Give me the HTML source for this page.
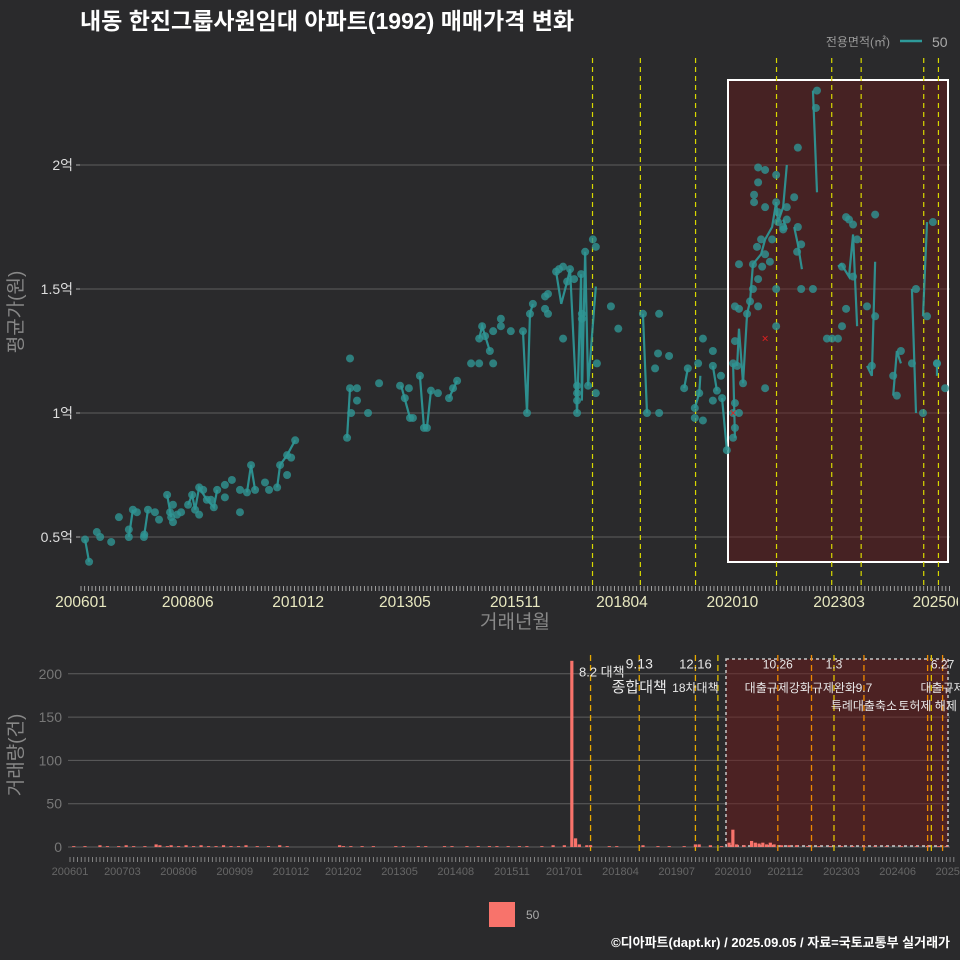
<!DOCTYPE html>
<html><head><meta charset="utf-8">
<style>
body{margin:0;background:#2a2a2c;}
svg{display:block;font-family:"Liberation Sans","Noto Sans CJK KR",sans-serif;}
</style></head><body>
<svg id="chart" width="960" height="960" viewBox="0 0 960 960">
<defs><clipPath id="xclip"><rect x="0" y="0" width="958" height="960"/></clipPath></defs>
<rect x="0" y="0" width="960" height="960" fill="#2a2a2c"/>
<text x="80" y="29" fill="#ffffff" font-size="23" font-weight="bold">내동 한진그룹사원임대 아파트(1992) 매매가격 변화</text>
<g>
<text x="890" y="46" fill="#999" font-size="12" text-anchor="end">전용면적(㎡)</text>
<line x1="900" y1="41" x2="922" y2="41" stroke="#2e9a9a" stroke-width="2.5"/>
<text x="932" y="47" fill="#aaa" font-size="14">50</text>
</g>
<g id="topg"></g>
<g id="botg"></g>
<text x="515" y="628" fill="#888" font-size="19" text-anchor="middle">거래년월</text>
<text transform="translate(22,312) rotate(-90)" fill="#888" font-size="19" text-anchor="middle">평균가(원)</text>
<text transform="translate(22,755) rotate(-90)" fill="#888" font-size="19" text-anchor="middle">거래량(건)</text>
<rect x="489" y="902" width="26" height="25" fill="#f8736b"/>
<text x="526" y="919" fill="#aaa" font-size="12">50</text>
<text x="950" y="947" fill="#ffffff" font-size="13" font-weight="bold" text-anchor="end">©디아파트(dapt.kr) / 2025.09.05 / 자료=국토교통부 실거래가</text>
</svg>
<script>
const NS="http://www.w3.org/2000/svg";
// ---- data ----
const yTicks=[0.5,1,1.5,2];
const yTickLabels=["0.5억","1억","1.5억","2억"];
const xTickMonths=[0,29,59,88,118,147,177,206,233];
const xTickLabels=["200601","200806","201012","201305","201511","201804","202010","202303","202506"];
const ptMonths=[1.1,2.2,4.3,5.2,8.2,10.3,13,13,14.1,15.2,17.1,17.2,18.2,20.1,21.2,23.4,24.2,24.5,25,25,26.1,27.2,29.1,30.2,31,32.1,32.1,33.2,34.2,35.3,36.1,37,39.1,39.1,41,43.2,43.2,45.1,46.2,47.3,50,51.1,53.3,54.1,56,56,57.1,58.2,72.3,73.1,73.1,73.4,75,75,78,81,86.7,88,89.1,89.4,90.2,92.1,93.2,94,95.1,97,100,101.1,102.2,106,108.2,108.2,109,109.8,111.1,112,112,114.1,114.1,116.8,120.1,121.2,122,122.8,126.1,126.9,126.1,126.9,129.1,129.9,131,131,132.1,132.9,134,134.8,134.8,134.8,134.8,135.9,136.1,136.1,137,137.8,139.1,139.9,140.2,139.9,144,146,152.7,153.8,157.1,157.1,156.8,156,159.8,163.9,164.9,167.7,169,166.8,166.8,169,168,171.7,171.7,173.9,172.8,171.7,174.2,175.5,177.2,177.7,177.2,178.8,177.7,177.2,178.3,177.7,179.9,178.8,177.7,178.8,181,181.8,182.6,184,185.9,182.6,185.1,183.7,184.8,185.9,187.2,187.8,188.9,188.9,188.9,188.9,184,185.9,184,182.9,182.9,185.9,189.4,189.4,190.8,191.8,190.8,191.8,194.8,193.8,194.8,195.7,194.6,195.7,198.9,200,199.7,184,202.7,204.1,205.7,206.8,207.9,209.8,208.7,209.8,210.9,206.8,207.9,215.8,215.8,213.6,214.9,220.7,221.7,222.8,225.8,226.9,228.8,229.9,231.5,232.6,232.6,234.8];
const ptPrices=[0.49,0.40,0.52,0.50,0.48,0.58,0.50,0.53,0.61,0.60,0.50,0.51,0.61,0.60,0.57,0.67,0.60,0.58,0.56,0.63,0.59,0.60,0.63,0.67,0.61,0.59,0.70,0.69,0.65,0.65,0.62,0.69,0.71,0.66,0.73,0.69,0.60,0.68,0.79,0.69,0.72,0.69,0.70,0.79,0.83,0.75,0.82,0.89,0.90,1.10,1.22,1.00,1.10,1.05,1.00,1.12,1.11,1.06,1.10,0.98,0.98,1.15,0.94,0.94,1.09,1.08,1.06,1.10,1.13,1.20,1.20,1.30,1.35,1.31,1.25,1.20,1.33,1.35,1.38,1.33,1.33,1.00,1.40,1.44,1.47,1.48,1.42,1.40,1.57,1.58,1.59,1.30,1.53,1.58,1.54,1.00,1.05,1.08,1.11,1.56,1.40,1.38,1.65,1.11,1.70,1.67,1.20,1.08,1.43,1.34,1.40,1.00,1.40,1.00,1.24,1.18,1.23,1.10,1.18,1.20,1.30,1.02,0.98,0.97,1.08,1.25,1.19,1.15,1.09,1.05,1.06,0.85,0.90,0.94,1.00,1.00,1.04,1.20,1.19,1.29,1.12,1.60,1.43,1.42,1.40,1.45,1.50,1.43,1.10,1.60,1.59,1.67,1.70,1.64,1.61,1.70,1.50,1.35,1.85,1.96,1.99,1.98,1.93,1.88,1.85,1.83,1.81,1.77,1.75,1.78,1.74,1.83,2.07,1.87,1.75,1.68,1.65,1.50,1.50,2.30,2.23,1.54,1.30,1.30,1.30,1.59,1.79,1.76,1.78,1.55,1.70,1.35,1.42,1.39,1.80,1.43,1.19,1.15,1.07,1.25,1.20,1.50,1.00,1.39,1.77,1.20,1.20,1.10,1.20];
const lineSegs=[
 [[1.1,0.49],[2.2,0.40]],[[13,0.5],[14.1,0.61]],[[17.1,0.5],[18.2,0.61]],[[23.4,0.67],[24.5,0.58]],
 [[29.1,0.63],[30.2,0.67],[31,0.61],[32.1,0.70],[34.2,0.65],[36.1,0.62],[37,0.69]],
 [[45.1,0.68],[46.2,0.79],[47.3,0.69]],[[53.3,0.70],[54.1,0.79],[56,0.83],[58.2,0.89]],
 [[72.3,0.9],[73.1,1.1]],[[87,1.11],[89.4,0.98]],[[92.1,1.15],[93.2,0.94],[94,0.94],[95.1,1.09]],
 [[100,1.06],[102.2,1.13]],[[108.2,1.3],[109,1.35],[111.1,1.25]],
 [[120.1,1.33],[121.2,1.0],[122,1.4],[122.8,1.44]],
 [[129.1,1.57],[130.5,1.44],[132.1,1.53],[132.9,1.58],[134.8,1.0],[135.9,1.56],[136.1,1.05],[137,1.65],[137.8,1.11],[139.9,1.51]],
 [[152.7,1.4],[153.8,1.0]],[[163.9,1.1],[164.9,1.18]],[[166.8,1.02],[168,1.08],[168.3,1.15]],
 [[171.7,1.19],[172.8,1.09]],[[174.2,1.06],[175.5,0.85]],
 [[177.2,1.2],[177.7,0.9]],
 [[178.3,1.19],[178.8,1.34],[179.9,1.12],[181,1.4],[181.8,1.45],[182.6,1.6],[184.8,1.64],[185.9,1.7],[187.8,1.75],[188.9,1.85],[189.4,1.77],[190.8,1.83],[191.8,2.0]],
 [[190.8,1.78],[191.8,1.74]],[[193.8,1.75],[194.8,1.68],[195.9,1.58]],[[198.9,2.3],[200,1.89]],
 [[205.7,1.59],[206.6,1.6],[208.7,1.55],[209.8,1.72],[210.9,1.35]],[[213.6,1.19],[214.9,1.15],[215.8,1.61]],
 [[220.7,1.07],[221.7,1.25],[222.8,1.2]],[[225.8,1.5],[226.9,1.0]],[[228.8,1.39],[229.9,1.77]],[[232.6,1.15],[232.6,1.2]]
];
const crossMonths=[185.9,177.2];
const crossPrices=[1.3,1.0];
const topPolicyMonths=[139,152,167,189,204,212,229,233];
// volume
const volTicks=[0,50,100,150,200];
const volXTickMonths=[0,14,29,44,59,73,88,103,118,132,147,162,177,191,206,221,236];
const volXTickLabels=["200601","200703","200806","200909","201012","201202","201305","201408","201511","201701","201804","201907","202010","202112","202303","202406","202509"];
const volMonths=[1,4,8,10,13,15,17,20,23,24,26,27,29,31,33,35,37,39,41,43,45,47,50,53,56,58,72,73,75,78,81,87,89,93,95,100,102,106,109,112,114,117,120,122,126,129,132,134,135,136,138,139,144,146,153,157,160,164,167,168,171,174,176,177,178,180,182,183,184,185,186,187,188,190,192,194,197,200,203,206,209,212,215,218,222,226,229,232,234];
const volValues=[1,1,2,1,1,2,1,1,3,2,1,2,1,2,1,2,1,1,2,1,1,2,1,1,2,1,2,1,1,1,1,1,1,1,1,1,1,1,1,1,1,1,1,1,1,2,2,215,10,3,2,2,1,1,2,1,1,1,3,3,2,1,5,20,3,2,7,5,4,5,3,5,3,2,2,2,1,1,1,1,1,1,1,1,1,1,1,1,1];
const volPolicyMonths=[139,152,167,173,189,198,204,212,229,230,233];
const volPolicyColors=["#e6a800","#e6a800","#e6a800","#e0c000","#f08a00","#f08a00","#e0c000","#f08a00","#f08a00","#e0c000","#f08a00"];
const annoTexts=["8.2 대책","9.13","종합대책","12.16","18차대책","10.26","대출규제강화","1.3","규제완화","9.7","특례대출축소","6.27","대출규제","토허제 해제"];
const annoMonths=[142,152,152,167,167,189,189,204,204,212,212,233,233,229];
const annoLevels=[-0.85,-1.3,0,-1.3,0,-1.3,0,-1.3,0,0,1,-1.3,0,1];
const annoSizes=[13,14,15,13,12,12,12,12,12,12,12,12,12,12];
// ---- scales ----
const X=m=>81+3.68*m, Y=p=>413-(p-1)*248;
const XB=m=>70+3.745*m, YB=v=>847-v*0.866;
function mk(tag,attrs,parent,text){const e=document.createElementNS(NS,tag);for(const k in attrs)e.setAttribute(k,attrs[k]);if(text!==undefined)e.textContent=text;parent.appendChild(e);return e;}
const topG=document.getElementById('topg'), botG=document.getElementById('botg');
yTicks.forEach((t,i)=>{
 const g=mk('line',{x1:80,x2:950,y1:Y(t),y2:Y(t),stroke:'#5e5e5e','stroke-width':1},topG);
 
 
 const l=mk('text',{x:73,y:Y(t)+5,fill:'#dedede','font-size':14,'text-anchor':'end'},topG,yTickLabels[i]);
 
 
 const tk=mk('line',{x1:76,x2:80,y1:Y(t),y2:Y(t),stroke:'#aaa'},topG);
 
 
});
const hr=mk('rect',{x:728,y:80,width:220,height:482,fill:'rgba(110,25,25,0.42)',stroke:'#ffffff','stroke-width':2},topG);


topPolicyMonths.forEach(m=>{
 const l=mk('line',{x1:X(m),x2:X(m),y1:58,y2:585,stroke:'#d8d800','stroke-width':1.2,'stroke-dasharray':'5,4'},topG);
 
 
});
lineSegs.forEach(seg=>{
 const pl=mk('polyline',{points:seg.map(q=>X(q[0])+','+Y(q[1])).join(' '),fill:'none',stroke:'#2e9a9a','stroke-width':2.2,opacity:0.9},topG);
 
 
});
ptMonths.forEach((m,i)=>{
 const c=mk('circle',{cx:X(m),cy:Y(ptPrices[i]),r:4,fill:'#2f9593',opacity:0.8},topG);
 
 
});
crossMonths.forEach((m,i)=>{
 const t=mk('text',{x:X(m),y:Y(crossPrices[i])+4,fill:'#e02020','font-size':12,'text-anchor':'middle'},topG,'×');
 
 
});
for(let m=0;m<=236;m++){
 const t=mk('line',{x1:X(m),x2:X(m),y1:586,y2:591,stroke:'#bbb','stroke-width':0.8},topG);
 
 
}
xTickMonths.forEach((m,i)=>{
 const t=mk('text',{x:X(m),y:607,fill:'#e8e8c0','font-size':15.5,'text-anchor':'middle','clip-path':'url(#xclip)'},topG,xTickLabels[i]);
 
 
});
volTicks.forEach(t=>{
 const g=mk('line',{x1:68,x2:950,y1:YB(t),y2:YB(t),stroke:'#5e5e5e','stroke-width':1},botG);
 
 
 const l=mk('text',{x:62,y:YB(t)+5,fill:'#777','font-size':14,'text-anchor':'end'},botG,String(t));
 
 
});
const br=mk('rect',{x:726,y:659,width:222,height:187,fill:'rgba(110,25,25,0.5)',stroke:'#c8c8c8','stroke-width':1.5,'stroke-dasharray':'3,3'},botG);


volPolicyMonths.forEach((m,i)=>{
 const l=mk('line',{x1:XB(m),x2:XB(m),y1:655,y2:855,stroke:volPolicyColors[i],'stroke-width':1.3,'stroke-dasharray':'6,4'},botG);
 
 
});
volMonths.forEach((m,i)=>{
 const b=mk('rect',{x:XB(m)-1.6,y:YB(volValues[i]),width:3.2,height:volValues[i]*0.866,fill:'#f8736b'},botG);
 
 
});
annoTexts.forEach((s,i)=>{
 const t=mk('text',{x:XB(annoMonths[i]),y:692+annoLevels[i]*18,fill:'#e8e8e8','font-size':annoSizes[i],'text-anchor':'middle'},botG,s);
 
 
});
for(let m=0;m<=236;m++){
 const t=mk('line',{x1:XB(m),x2:XB(m),y1:857,y2:862,stroke:'#999','stroke-width':0.8},botG);
 
 
}
volXTickMonths.forEach((m,i)=>{
 const t=mk('text',{x:XB(m),y:875,fill:'#666','font-size':11,'text-anchor':'middle'},botG,volXTickLabels[i]);
 
 
});
</script>
</body></html>
